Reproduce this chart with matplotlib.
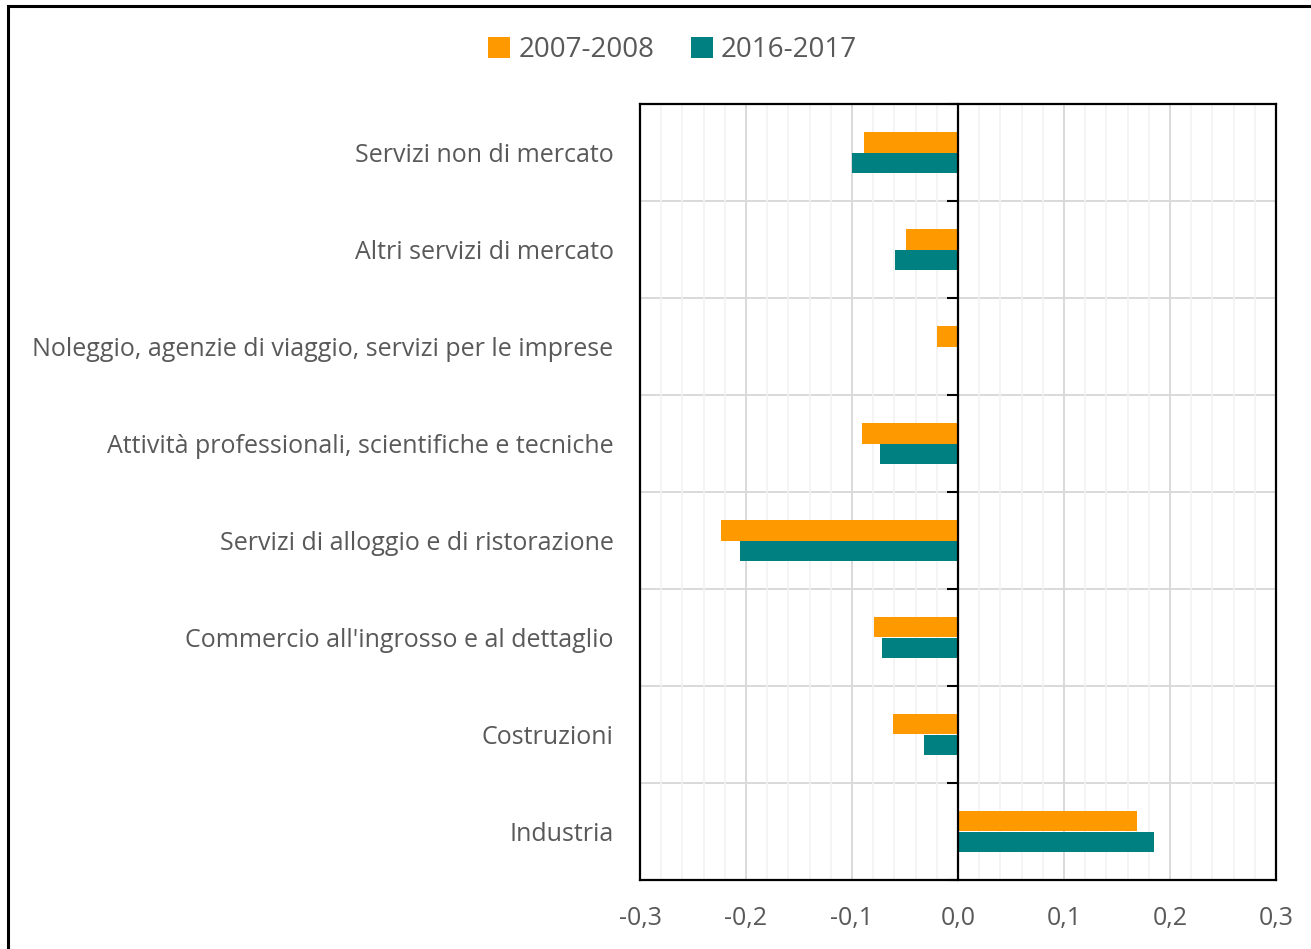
import numpy as np
import matplotlib.pyplot as plt
from matplotlib.patches import Rectangle
from matplotlib.ticker import MultipleLocator

plt.rcParams['font.family'] = ['Open Sans', 'DejaVu Sans']

# dati
categories = [
    'Servizi non di mercato',
    'Altri servizi di mercato',
    'Noleggio, agenzie di viaggio, servizi per le imprese',
    'Attività professionali, scientifiche e tecniche',
    'Servizi di alloggio e di ristorazione',
    "Commercio all'ingrosso e al dettaglio",
    'Costruzioni',
    'Industria',
]
v_2007 = [-0.089, -0.049, -0.020, -0.091, -0.224, -0.079, -0.061, 0.169]
v_2016 = [-0.100, -0.059, 0.000, -0.074, -0.206, -0.072, -0.032, 0.185]
series_names = ['2007-2008', '2016-2017']
xticks = [-0.3, -0.2, -0.1, 0.0, 0.1, 0.2, 0.3]
xtick_labels = ['-0,3', '-0,2', '-0,1', '0,0', '0,1', '0,2', '0,3']

c_orange = '#FF9900'
c_teal = '#008080'
txt = '#595959'

fig = plt.figure(figsize=(13.11, 9.49), dpi=100)
ax = fig.add_axes([640 / 1311, 1 - 880 / 949, 636 / 1311, 776 / 949])

n = len(categories)
y = np.arange(n)
h = 0.21
ax.barh(y - h / 2, v_2007, height=h, color=c_orange, label=series_names[0], zorder=3)
ax.barh(y + h / 2, v_2016, height=h, color=c_teal, label=series_names[1], zorder=3)

ax.set_xlim(-0.3, 0.3)
ax.set_ylim(n - 0.5, -0.5)

# griglia
ax.set_xticks(xticks)
ax.set_xticklabels(xtick_labels)
ax.xaxis.set_minor_locator(MultipleLocator(0.02))
ax.grid(which='minor', axis='x', color='#F2F2F2', linewidth=1.2, zorder=0)
ax.grid(which='major', axis='x', color='#D9D9D9', linewidth=1.4, zorder=1)
for b in np.arange(n + 1) - 0.5:
    ax.axhline(b, color='#D9D9D9', linewidth=1.4, zorder=1)

ax.set_yticks(y)
ax.set_yticklabels(categories)
ax.tick_params(axis='y', length=0, pad=19, labelsize=18, labelcolor=txt)
ax.tick_params(axis='x', which='both', length=0, pad=19, labelsize=18, labelcolor=txt)

for s in ax.spines.values():
    s.set_color('black')
    s.set_linewidth(1.6)

# asse dello zero con tacche
sec = ax.secondary_yaxis(0.5)
sec.set_yticks(np.arange(n + 1) - 0.5)
sec.set_yticklabels([])
sec.tick_params(axis='y', direction='in', length=8, width=1.5, color='black')
for s in sec.spines.values():
    s.set_linewidth(1.6)
    s.set_color('black')
sec.set_zorder(4)

leg = fig.legend(loc='center', bbox_to_anchor=(0.513, 1 - 50 / 949), ncol=2,
                 frameon=False, fontsize=20, handlelength=0.8, handleheight=0.8,
                 handletextpad=0.3, columnspacing=1.3)
for t in leg.get_texts():
    t.set_color(txt)

# bordo della figura
fig.patches.append(Rectangle((8 / 1311, -0.1), 1.2, 1.1 - 6 / 949, transform=fig.transFigure,
                             fill=False, edgecolor='black', linewidth=2.2))

fig.savefig('out.png', dpi=100, facecolor='white')
